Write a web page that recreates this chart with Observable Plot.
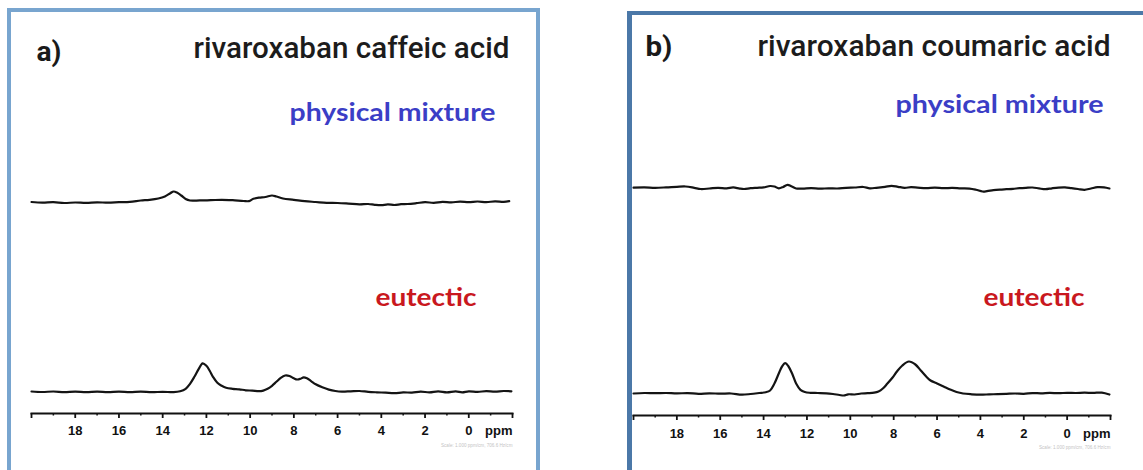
<!DOCTYPE html>
<html>
<head>
<meta charset="utf-8">
<script src="https://cdn.jsdelivr.net/npm/d3@7"></script>
<script src="https://cdn.jsdelivr.net/npm/@observablehq/plot@0.6"></script>
<style>
html,body{margin:0;padding:0;background:#fff;}
body{width:1143px;height:470px;position:relative;overflow:hidden;}
.box{position:absolute;box-sizing:border-box;}
#boxA{left:7px;top:8px;width:533px;height:480px;border:4px solid #78a5cf;border-bottom:none;}
#boxB{left:627px;top:11px;width:530px;height:480px;border-top:4px solid #4b78a8;border-left:5px solid #4b78a8;}
.plot{position:absolute;top:0;}
#plotA{left:0;}
#plotB{left:580px;}
</style>
</head>
<body>
<div class="box" id="boxA"></div>
<div class="box" id="boxB"></div>
<div class="plot" id="plotA"></div>
<div class="plot" id="plotB"></div>
<script>
// ---------- data: [chemical shift (ppm), relative intensity] ----------
const caffeicPhysical = [[20.0,0],[19.5,-0.6],[19.0,-0.2],[18.5,-1.0],[18.0,-0.5],[17.5,-0.9],[17.0,-0.3],[16.5,-0.7],[16.0,-0.2],[15.5,0.2],[15.0,1.5],[14.6,2.2],[14.2,3.5],[13.9,5.5],[13.65,8.8],[13.5,10.5],[13.35,9.5],[13.15,6.5],[12.95,3],[12.75,1.5],[12.3,1.6],[11.8,1.8],[11.3,2.2],[10.8,1.8],[10.3,1.0],[10.05,0.9],[9.85,3.2],[9.6,4.4],[9.3,5.0],[9.0,6.5],[8.8,5.5],[8.5,3.5],[8.0,2.2],[7.5,0.8],[7.0,0],[6.5,-0.8],[6.0,-1.0],[5.5,-1.6],[5.0,-2.3],[4.6,-2.0],[4.3,-2.8],[4.0,-3.2],[3.7,-2.4],[3.4,-3.0],[3.1,-2.2],[2.8,-2.0],[2.4,-1.2],[2.0,-0.2],[1.6,-0.8],[1.2,0.2],[0.8,-0.4],[0.4,0.4],[0.0,-0.2],[-0.4,0.5],[-0.8,-0.1],[-1.2,0.6],[-1.6,0.2],[-1.85,0.8]];
const caffeicEutectic = [[20.0,0.3],[19.5,-0.2],[19.0,0.3],[18.5,-0.3],[18.0,0.2],[17.5,-0.4],[17.0,0.1],[16.5,-0.3],[16.0,0.2],[15.5,-0.3],[15.0,0.2],[14.5,-0.4],[14.0,0],[13.5,-0.4],[13.2,0.5],[12.95,3],[12.75,8],[12.55,15],[12.35,23],[12.17,28.5],[12.0,26],[11.85,21],[11.7,15],[11.5,9],[11.3,6],[11.1,4],[10.8,3],[10.5,2.5],[10.2,1.5],[9.9,1.2],[9.6,0.6],[9.4,1.2],[9.2,3],[9.0,6],[8.8,10],[8.6,14],[8.4,16.3],[8.2,15.8],[8.0,13.5],[7.85,12.3],[7.7,13],[7.55,14.5],[7.4,13.5],[7.2,10.5],[7.0,7.5],[6.7,4.5],[6.4,2.2],[6.1,0.8],[5.8,0.2],[5.4,0.5],[5.0,0.8],[4.6,0],[4.2,-0.5],[3.8,-0.9],[3.4,-1.4],[3.0,-0.6],[2.6,-0.8],[2.2,0.2],[1.8,-0.6],[1.4,0.4],[1.0,-0.6],[0.6,0.4],[0.3,-0.5],[0.0,0.5],[-0.4,0],[-0.8,0.6],[-1.2,0.2],[-1.6,0.8],[-1.95,0.5]];
const coumaricPhysical = [[20.0,0.3],[19.5,0.6],[19.0,0.2],[18.5,0.6],[18.0,1.2],[17.6,1.5],[17.2,0.2],[16.9,-1.0],[16.5,-0.5],[16.1,0.2],[15.7,-0.3],[15.4,0.6],[15.1,-0.6],[14.9,-1.0],[14.6,-0.2],[14.3,0.2],[14.0,0.6],[13.7,2.0],[13.5,1.5],[13.3,-0.3],[13.1,1.0],[12.9,3.2],[12.7,1.5],[12.5,-0.5],[12.2,-0.6],[11.8,-0.2],[11.4,-0.7],[11.0,-0.3],[10.6,-0.5],[10.2,0.2],[9.8,0.5],[9.4,1.0],[9.1,-0.3],[8.8,0.2],[8.4,1.2],[8.1,2.2],[7.8,1.2],[7.5,0.2],[7.2,0.8],[6.9,0.4],[6.5,-0.1],[6.1,0.3],[5.7,-0.2],[5.3,0.1],[4.9,-0.4],[4.5,-0.6],[4.2,-1.8],[3.9,-3.5],[3.7,-3.2],[3.4,-2.2],[3.1,-1.6],[2.8,-1.2],[2.5,-0.8],[2.2,-0.2],[1.9,0.2],[1.6,0.5],[1.3,-0.4],[1.0,-1.2],[0.7,-0.3],[0.4,0.4],[0.1,0.6],[-0.2,-0.2],[-0.5,-1.0],[-0.8,-1.8],[-1.1,-0.5],[-1.4,0.8],[-1.7,0.6],[-1.95,-0.5]];
const coumaricEutectic = [[20.0,0],[19.5,0.5],[19.0,0.3],[18.5,0.5],[18.0,0.1],[17.5,0.4],[17.0,-0.3],[16.5,0.2],[16.0,-0.2],[15.5,0],[15.0,-1.2],[14.6,-0.5],[14.2,0.5],[13.9,1.3],[13.7,3],[13.5,10],[13.3,20],[13.15,27],[13.0,30.3],[12.85,27],[12.68,19.7],[12.5,10],[12.3,3.7],[12.1,1.5],[11.85,0.7],[11.5,0.5],[11.1,0.2],[10.8,-0.5],[10.5,-1.5],[10.3,-2.0],[10.1,-0.8],[9.8,-1.0],[9.5,0],[9.2,0.3],[8.9,0.8],[8.7,2],[8.5,5],[8.3,9.7],[8.05,16],[7.85,22],[7.6,28],[7.3,32],[7.0,29],[6.75,23],[6.5,17],[6.3,13],[6.0,10],[5.7,7],[5.4,4],[5.1,1.5],[4.8,0],[4.4,-0.8],[4.0,-1.2],[3.6,-0.9],[3.2,-0.6],[2.8,-0.3],[2.4,0],[2.0,-0.3],[1.6,0.4],[1.2,0.2],[0.8,0.6],[0.4,0.3],[0.0,0.7],[-0.4,0.5],[-0.8,0.8],[-1.2,0.6],[-1.6,0.9],[-1.95,-1.0]];

const xDomain = [20, -2];
const majorTicks = [18, 16, 14, 12, 10, 8, 6, 4, 2, 0];
const minorTicks = [19, 17, 15, 13, 11, 9, 7, 5, 3, 1, -1];
const endTicks = [20, -2];
const axisUnit = "ppm";
const scaleNote = "Scale: 1.000 ppm/cm, 706.6 Hz/cm";
const panelLabels = ["a)", "b)"];
const panelTitles = ["rivaroxaban caffeic acid", "rivaroxaban coumaric acid"];
const seriesNames = ["physical mixture", "eutectic"];
const seriesColors = ["#3b3ec6", "#c9181e"];

function panel(cfg) {
  const height = 470;
  const mB = height - cfg.axisY;
  const yLow = -(cfg.axisY - cfg.eutY);     // 1 unit = 1 px
  const offset = cfg.eutY - cfg.physY;       // vertical stacking offset of upper trace
  const yHigh = offset + 22;
  const mT = cfg.physY - 22;
  const mL = cfg.x0, mR = cfg.width - cfg.x1;
  const lab = (t, x, y, o) => Plot.text([t], {
    frameAnchor: "top-left", dx: x - mL, dy: y - mT, text: d => d,
    textAnchor: o.anchor || "start", lineAnchor: "bottom",
    fontSize: o.size, fontFamily: o.family, fontWeight: o.weight, fill: o.fill
  });
  const lineOpts = {curve: "catmull-rom", stroke: "#141414", strokeWidth: 2.2, strokeLinejoin: "round"};
  const plot = Plot.plot({
    width: cfg.width, height,
    marginLeft: mL, marginRight: mR, marginTop: mT, marginBottom: mB,
    x: {domain: xDomain},
    y: {domain: [yLow, yHigh], axis: null},
    style: {background: "transparent", overflow: "visible"},
    marks: [
      Plot.line(cfg.phys, {x: d => d[0], y: d => d[1] + offset, ...lineOpts}),
      Plot.line(cfg.eut, {x: d => d[0], y: d => d[1], ...lineOpts}),
      Plot.axisX({ticks: minorTicks, tickSize: 2.5, tickFormat: () => "", strokeWidth: 1.5, stroke: "#111", label: null}),
      Plot.axisX({ticks: endTicks, tickSize: 5, tickFormat: () => "", strokeWidth: 1.8, stroke: "#111", label: null}),
      Plot.axisX({ticks: majorTicks, tickSize: 5, tickPadding: cfg.tickPad, strokeWidth: 1.8, stroke: "#111",
        fontSize: 13, fontWeight: "bold", fontFamily: "Liberation Sans", fill: "#111", label: null}),
      Plot.frame({anchor: "bottom", stroke: "#111", strokeWidth: 2}),
      lab(axisUnit, cfg.x1, cfg.axisY + cfg.tickPad + 5 + 9.6, {anchor: "end", size: 13, family: "Liberation Sans", weight: "bold", fill: "#111"}),
      lab(scaleNote, cfg.x1, cfg.axisY + 33, {anchor: "end", size: 4.6, family: "Liberation Sans", weight: "normal", fill: "#c4c4c4"}),
      ...cfg.texts.map(t => lab(t.t, t.x, t.y, t))
    ]
  });
  // fit label widths to the reference
  d3.select(plot).selectAll("text").each(function() {
    const t = cfg.texts.find(d => d.t === this.textContent);
    if (t && t.w) { this.setAttribute("textLength", t.w); this.setAttribute("lengthAdjust", "spacingAndGlyphs"); }
  });
  return plot;
}

document.getElementById("plotA").append(panel({
  width: 560, x0: 31, x1: 512, axisY: 413, eutY: 391.3, physY: 201.5, tickPad: 7,
  phys: caffeicPhysical, eut: caffeicEutectic,
  texts: [
    {t: panelLabels[0], x: 36, y: 60, size: 28, family: "Roboto", weight: 700, fill: "#1a1a1a", w: 25},
    {t: panelTitles[0], x: 193, y: 57, size: 30, family: "Roboto", weight: 500, fill: "#1c1c1c", w: 316},
    {t: seriesNames[0], x: 289, y: 120, size: 25, family: "Lato", weight: 700, fill: seriesColors[0], w: 206},
    {t: seriesNames[1], x: 375, y: 305, size: 25, family: "Lato", weight: 700, fill: seriesColors[1], w: 101}
  ]
}));

document.getElementById("plotB").append(panel({
  width: 563, x0: 53, x1: 530, axisY: 415, eutY: 393, physY: 187.5, tickPad: 8,
  phys: coumaricPhysical, eut: coumaricEutectic,
  texts: [
    {t: panelLabels[1], x: 65, y: 55, size: 28, family: "Roboto", weight: 700, fill: "#1a1a1a", w: 27},
    {t: panelTitles[1], x: 177, y: 55, size: 30, family: "Roboto", weight: 500, fill: "#1c1c1c", w: 353},
    {t: seriesNames[0], x: 315, y: 112, size: 25, family: "Lato", weight: 700, fill: seriesColors[0], w: 208},
    {t: seriesNames[1], x: 403, y: 305, size: 25, family: "Lato", weight: 700, fill: seriesColors[1], w: 101}
  ]
}));
</script>
</body>
</html>
